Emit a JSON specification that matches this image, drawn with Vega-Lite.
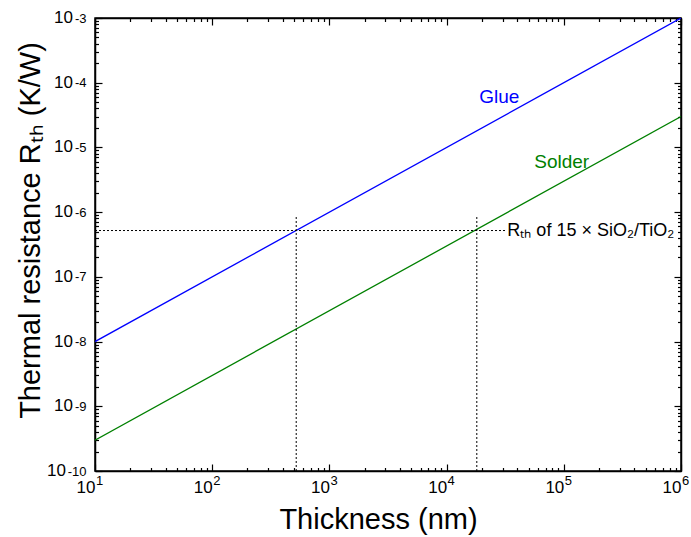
{
  "$schema": "https://vega.github.io/schema/vega-lite/v6.json",
  "width": 586,
  "height": 453,
  "autosize": "none",
  "padding": {"left": 95, "top": 18, "right": 10, "bottom": 66},
  "background": "white",
  "config": {
    "view": {"stroke": "black", "strokeWidth": 1.5},
    "font": "Liberation Sans",
    "axis": {
      "grid": false,
      "domainColor": "black",
      "domainWidth": 1.5,
      "tickColor": "black",
      "tickWidth": 1.2,
      "labelColor": "black",
      "labelFont": "Liberation Sans",
      "titleFont": "Liberation Sans",
      "titleColor": "black",
      "titleFontWeight": "normal",
      "labelOverlap": false
    }
  },
  "datasets": {
    "lines": [
      {"series": "Glue", "x": 10, "y": 1e-8},
      {"series": "Glue", "x": 1000000, "y": 0.001},
      {"series": "Solder", "x": 10, "y": 3e-10},
      {"series": "Solder", "x": 1000000, "y": 3e-5}
    ],
    "refs": [
      {"x": 10, "x2": 32000, "y": 5.2e-7, "y2": 5.2e-7},
      {"x": 521, "x2": 521, "y": 1e-10, "y2": 8.8e-7},
      {"x": 18100, "x2": 18100, "y": 1e-10, "y2": 8.8e-7}
    ],
    "labels": [
      {"label": "Glue", "x": 28100, "y": 6e-5, "color": "Glue"},
      {"label": "Solder", "x": 96000, "y": 5.9e-6, "color": "Solder"}
    ],
    "note": [
      {"label": "Rₜₕ of 15 × SiO₂/TiO₂", "x": 33000, "y": 5.2e-7}
    ],
    "xexp": [
      {"x": 10, "e": "1"},
      {"x": 100, "e": "2"},
      {"x": 1000, "e": "3"},
      {"x": 10000, "e": "4"},
      {"x": 100000, "e": "5"},
      {"x": 1000000, "e": "6"}
    ],
    "ybase": [
      {"y": 0.001, "t": "10"},
      {"y": 0.0001, "t": "10"},
      {"y": 1e-5, "t": "10"},
      {"y": 1e-6, "t": "10"},
      {"y": 1e-7, "t": "10"},
      {"y": 1e-8, "t": "10"},
      {"y": 1e-9, "t": "10"}
    ],
    "ybase10": [
      {"y": 1e-10, "t": "10"}
    ]
  },
  "resolve": {"axis": {"x": "independent", "y": "independent"}},
  "layer": [
    {
      "data": {"name": "lines"},
      "mark": {"type": "line", "strokeWidth": 1.3, "clip": true},
      "encoding": {
        "x": {
          "field": "x", "type": "quantitative",
          "scale": {"type": "log", "domain": [10, 1000000], "nice": false},
          "axis": {
            "orient": "bottom",
            "title": "Thickness (nm)",
            "titleFontSize": 29,
            "titleX": 283,
            "titleY": 48,
            "titleAlign": "center",
            "titleBaseline": "middle",
            "labelFontSize": 17,
            "labelPadding": 15,
            "labelAlign": "right",
            "labelDx": -1,
            "values": [10,20,30,40,50,60,70,80,90,100,200,300,400,500,600,700,800,900,1000,2000,3000,4000,5000,6000,7000,8000,9000,10000,20000,30000,40000,50000,60000,70000,80000,90000,100000,200000,300000,400000,500000,600000,700000,800000,900000,1000000],
            "labelExpr": "abs(log(datum.value)/LN10 - round(log(datum.value)/LN10)) < 0.001 ? '10' : ''",
            "tickSize": {"condition": {"test": "abs(log(datum.value)/LN10 - round(log(datum.value)/LN10)) < 0.001", "value": -7}, "value": -3.5}
          }
        },
        "y": {
          "field": "y", "type": "quantitative",
          "scale": {"type": "log", "domain": [1e-10, 0.001], "nice": false},
          "axis": {
            "orient": "left",
            "title": "Thermal resistance Rₜₕ (K/W)",
            "titleFontSize": 29,
            "titleX": -65,
            "titleY": 212,
            "titleAlign": "center",
            "titleBaseline": "middle",
            "titleAngle": -90,
            "labelFontSize": 13,
            "labelPadding": 16,
            "labelAlign": "right",
            "labelDy": -6,
            "values": [1e-10,2e-10,3e-10,4e-10,5e-10,6e-10,7e-10,8e-10,9e-10,1e-9,2e-9,3e-9,4e-9,5e-9,6e-9,7e-9,8e-9,9e-9,1e-8,2e-8,3e-8,4e-8,5e-8,6e-8,7e-8,8e-8,9e-8,1e-7,2e-7,3e-7,4e-7,5e-7,6e-7,7e-7,8e-7,9e-7,1e-6,2e-6,3e-6,4e-6,5e-6,6e-6,7e-6,8e-6,9e-6,1e-5,2e-5,3e-5,4e-5,5e-5,6e-5,7e-5,8e-5,9e-5,1e-4,2e-4,3e-4,4e-4,5e-4,6e-4,7e-4,8e-4,9e-4,1e-3],
            "labelExpr": "abs(log(datum.value)/LN10 - round(log(datum.value)/LN10)) < 0.001 ? '-' + format(round(-log(datum.value)/LN10), 'd') : ''",
            "tickSize": {"condition": {"test": "abs(log(datum.value)/LN10 - round(log(datum.value)/LN10)) < 0.001", "value": -7}, "value": -3.5}
          }
        },
        "color": {
          "field": "series", "type": "nominal",
          "scale": {"domain": ["Glue", "Solder"], "range": ["#0000ff", "#008000"]},
          "legend": null
        }
      }
    },
    {
      "data": {"name": "refs"},
      "mark": {"type": "rule", "strokeDash": [2, 2], "strokeWidth": 1, "color": "black"},
      "encoding": {
        "x": {
          "field": "x", "type": "quantitative",
          "axis": {
            "orient": "top", "title": null, "labels": false,
            "values": [10,20,30,40,50,60,70,80,90,100,200,300,400,500,600,700,800,900,1000,2000,3000,4000,5000,6000,7000,8000,9000,10000,20000,30000,40000,50000,60000,70000,80000,90000,100000,200000,300000,400000,500000,600000,700000,800000,900000,1000000],
            "tickSize": {"condition": {"test": "abs(log(datum.value)/LN10 - round(log(datum.value)/LN10)) < 0.001", "value": -7}, "value": -3.5}
          }
        },
        "x2": {"field": "x2"},
        "y": {
          "field": "y", "type": "quantitative",
          "axis": {
            "orient": "right", "title": null, "labels": false,
            "values": [1e-10,2e-10,3e-10,4e-10,5e-10,6e-10,7e-10,8e-10,9e-10,1e-9,2e-9,3e-9,4e-9,5e-9,6e-9,7e-9,8e-9,9e-9,1e-8,2e-8,3e-8,4e-8,5e-8,6e-8,7e-8,8e-8,9e-8,1e-7,2e-7,3e-7,4e-7,5e-7,6e-7,7e-7,8e-7,9e-7,1e-6,2e-6,3e-6,4e-6,5e-6,6e-6,7e-6,8e-6,9e-6,1e-5,2e-5,3e-5,4e-5,5e-5,6e-5,7e-5,8e-5,9e-5,1e-4,2e-4,3e-4,4e-4,5e-4,6e-4,7e-4,8e-4,9e-4,1e-3],
            "tickSize": {"condition": {"test": "abs(log(datum.value)/LN10 - round(log(datum.value)/LN10)) < 0.001", "value": -7}, "value": -3.5}
          }
        },
        "y2": {"field": "y2"}
      }
    },
    {
      "data": {"name": "labels"},
      "mark": {"type": "text", "fontSize": 19, "align": "center", "baseline": "middle"},
      "encoding": {
        "x": {"field": "x", "type": "quantitative", "axis": null},
        "y": {"field": "y", "type": "quantitative", "axis": null},
        "text": {"field": "label"},
        "color": {"field": "color", "type": "nominal", "legend": null}
      }
    },
    {
      "data": {"name": "note"},
      "mark": {"type": "text", "fontSize": 18, "align": "left", "baseline": "middle", "color": "black"},
      "encoding": {
        "x": {"field": "x", "type": "quantitative", "axis": null},
        "y": {"field": "y", "type": "quantitative", "axis": null},
        "text": {"field": "label"}
      }
    },
    {
      "data": {"name": "xexp"},
      "mark": {"type": "text", "fontSize": 13, "align": "left", "baseline": "top", "dx": 1, "dy": 4, "color": "black"},
      "encoding": {
        "x": {"field": "x", "type": "quantitative", "axis": null},
        "y": {"datum": 1e-10, "type": "quantitative", "axis": null},
        "text": {"field": "e"}
      }
    },
    {
      "data": {"name": "ybase"},
      "mark": {"type": "text", "fontSize": 17, "align": "right", "baseline": "middle", "dx": -22, "color": "black"},
      "encoding": {
        "x": {"datum": 10, "type": "quantitative", "axis": null},
        "y": {"field": "y", "type": "quantitative", "axis": null},
        "text": {"field": "t"}
      }
    },
    {
      "data": {"name": "ybase10"},
      "mark": {"type": "text", "fontSize": 17, "align": "right", "baseline": "middle", "dx": -29, "color": "black"},
      "encoding": {
        "x": {"datum": 10, "type": "quantitative", "axis": null},
        "y": {"field": "y", "type": "quantitative", "axis": null},
        "text": {"field": "t"}
      }
    }
  ]
}
